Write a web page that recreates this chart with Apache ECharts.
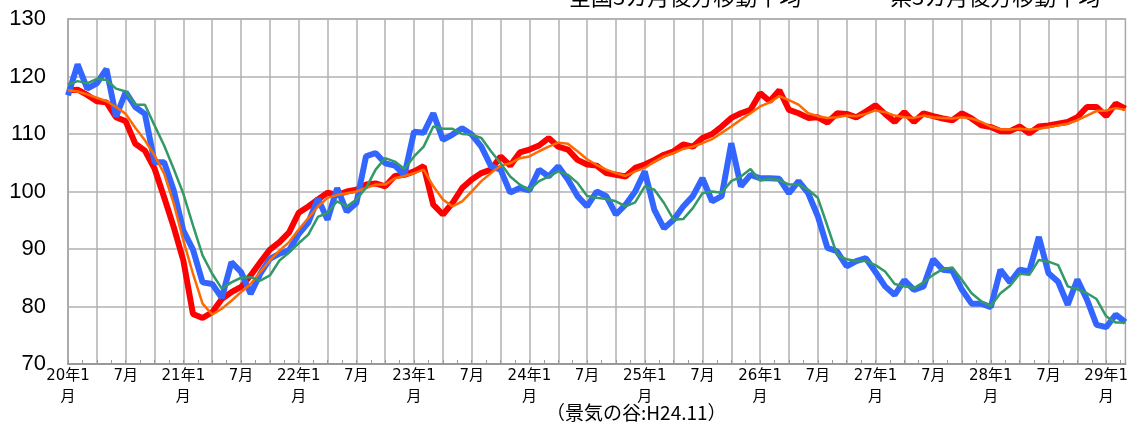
<!DOCTYPE html>
<html>
<head>
	<meta http-equiv="Content-Type" content="text/html; charset=UTF-8">
	<title>景気動向指数</title>
	<script type="text/javascript" src="https://cdn.jsdelivr.net/npm/echarts@6/dist/echarts.min.js"></script>
	<style>
		body { margin: 0; background: #fff; }
		#show { width: 1131px; height: 426px; }
	</style>
</head>
<body>
<div id="show"></div>

<script type="text/javascript">
	// H20.1 - H29.3 monthly
	var months = [];
	for (var y = 20; y <= 29; y++) {
		for (var m = 1; m <= 12; m++) {
			if (y == 29 && m > 3) break;
			months.push(y + '年' + m + '月');
		}
	}

	// 全国
	var zenkoku = [
		117.6,117.7,116.8,115.7,115.5,112.9,112.2,108.3,107.1,104.0,99.0,93.8,
		88.0,78.7,78.0,79.0,81.3,82.5,83.4,85.4,87.7,89.9,91.2,92.9,
		96.3,97.4,98.6,99.8,99.4,100.0,100.3,101.2,101.4,100.9,102.7,102.9,
		103.5,104.4,97.7,96.0,98.0,100.6,102.1,103.2,103.8,106.1,104.5,106.8,
		107.3,108.0,109.3,107.8,107.3,105.5,104.7,104.5,103.2,102.9,102.6,104.1,
		104.7,105.5,106.4,107.0,108.2,107.8,109.3,110.0,111.3,112.8,113.6,114.2,
		117.1,115.7,117.6,114.2,113.6,112.8,112.9,112.0,113.6,113.5,112.9,113.9,
		115.0,113.5,112.1,113.8,112.1,113.6,113.1,112.7,112.4,113.6,112.7,111.5,
		111.2,110.5,110.5,111.3,110.1,111.3,111.5,111.8,112.1,112.9,114.7,114.7,
		113.1,115.3,114.4
	];
	// 県
	var ken = [
		116.7,122.1,117.9,118.8,121.3,113.0,117.3,114.7,113.5,105.1,105.1,100.2,
		93.2,89.9,84.2,83.9,81.5,87.7,86.0,82.2,85.7,88.3,89.2,89.8,
		92.6,94.6,98.8,95.1,100.6,96.5,98.0,106.1,106.7,104.9,104.5,102.9,
		110.4,110.2,113.6,109.0,109.9,111.0,109.9,107.8,104.4,103.8,99.8,100.6,
		100.2,103.8,102.6,104.4,102.1,99.2,97.4,100.0,99.2,96.0,97.7,100.0,
		103.5,96.8,93.6,95.1,97.4,99.2,102.3,98.3,99.2,108.4,100.9,102.9,
		102.3,102.3,102.2,99.7,101.8,99.7,95.7,90.2,89.6,87.0,87.9,88.4,
		86.0,83.5,82.0,84.6,82.9,83.5,88.2,86.4,86.2,82.9,80.5,80.5,
		79.9,86.4,84.2,86.4,86.1,92.1,85.8,84.3,80.3,84.7,81.2,76.8,
		76.4,78.6,77.3
	];
	// 全国3カ月後方移動平均
	var zenkokuMA = [
		117.6,117.4,116.9,116.3,115.7,114.7,113.5,111.1,108.9,106.3,103.1,97.9,
		91.5,85.7,80.5,78.6,79.6,81.0,82.5,83.9,86.0,88.0,89.7,91.2,
		93.4,95.4,97.4,98.9,99.4,99.7,100.0,100.6,101.2,101.2,102.3,102.7,
		103.2,103.8,100.9,98.6,97.4,98.3,100.0,101.8,103.2,104.5,104.9,105.8,
		106.1,107.0,107.8,108.5,108.3,107.0,105.6,104.6,103.8,103.2,102.7,103.5,
		104.1,105.2,106.1,106.7,107.4,107.8,108.4,109.1,110.2,111.3,112.5,113.6,
		114.8,115.5,116.6,115.9,115.1,113.6,113.1,112.8,112.9,113.2,113.1,113.5,
		114.1,113.8,113.2,112.9,112.8,113.2,112.9,112.8,112.7,112.9,112.7,112.1,
		111.3,110.8,110.8,110.9,110.8,110.9,111.2,111.5,111.8,112.4,113.2,114.0,
		114.1,114.5,114.2
	];
	// 県3カ月後方移動平均
	var kenMA = [
		118.6,119.2,118.8,119.6,119.4,117.9,117.4,115.1,115.1,111.5,108.0,103.9,
		99.6,94.1,88.9,85.7,83.1,84.2,85.0,85.1,84.5,85.4,88.0,89.4,
		91.0,92.5,95.6,96.3,98.3,97.4,98.6,100.6,103.8,105.8,105.2,103.9,
		106.1,107.8,111.3,110.9,110.9,110.0,109.9,109.3,107.0,104.9,102.6,101.2,
		100.3,101.8,102.6,103.5,102.9,101.5,99.2,98.9,98.7,98.3,97.4,98.1,
		100.9,100.3,98.0,95.1,95.2,97.1,99.7,100.0,99.8,101.8,102.6,103.9,
		101.9,102.2,102.0,101.2,101.2,100.3,98.9,94.0,89.0,88.2,87.9,87.9,
		87.2,86.1,83.9,83.5,83.2,84.2,85.5,86.5,86.8,84.6,82.3,80.9,
		80.1,82.3,83.6,85.7,85.5,88.1,87.8,87.2,83.5,83.0,82.3,81.3,
		78.3,77.2,77.2
	];

	var myChart = echarts.init(document.getElementById('show'));

	var option = {
		animation: false,
		backgroundColor: '#fff',
		grid: {
			left: 68, right: 5, top: 19, bottom: 62,
			show: true, borderColor: '#a8a8a8', borderWidth: 1.5
		},
		graphic: [
			{ type: 'text', left: 569, top: -14, style: { text: '全国3カ月後方移動平均', font: '22px "Noto Sans CJK JP"', fill: '#000' } },
			{ type: 'text', left: 890, top: -14, style: { text: '県3カ月後方移動平均', font: '22px "Noto Sans CJK JP"', fill: '#000' } },
			{ type: 'text', left: 546, top: 403, style: { text: '（景気の谷:H24.11）', font: '19px "Noto Sans CJK JP"', fill: '#000' } }
		],
		xAxis: [{
			type: 'category',
			data: months,
			boundaryGap: false,
			axisLine: { lineStyle: { color: '#999', width: 2 } },
			axisTick: { show: false },
			axisLabel: {
				interval: function (i) { return i % 6 === 0; },
				color: '#000',
				fontSize: 15,
				fontFamily: '"DejaVu Sans", "Noto Sans CJK JP"',
				lineHeight: 21,
				margin: 2,
				formatter: function (v) {
					return /年1月$/.test(v) ? v.replace('月', '\n月') : v.replace(/^\d+年/, '');
				}
			},
			splitLine: {
				show: true,
				interval: function (i) { return i % 3 === 0; },
				lineStyle: { color: '#b0b0b0', width: 1.5 }
			}
		}, {
			// small ticks between the grid lines
			type: 'value',
			position: 'bottom',
			min: 0, max: 110, interval: 1.5,
			axisLine: { show: false },
			axisLabel: { show: false },
			splitLine: { show: false },
			axisTick: { show: true, inside: true, length: 4, lineStyle: { color: '#999' } }
		}],
		yAxis: {
			type: 'value',
			min: 70, max: 130, interval: 10,
			axisLine: { show: true, lineStyle: { color: '#a8a8a8', width: 1.5 } },
			axisTick: { show: false },
			axisLabel: { color: '#000', fontSize: 22, fontFamily: 'Liberation Sans', margin: 22 },
			splitLine: { lineStyle: { color: '#b0b0b0', width: 1.5 } }
		},
		series: [
			{ name: '全国', type: 'line', data: zenkoku, symbol: 'none', lineStyle: { color: '#ff0000', width: 6 } },
			{ name: '県', type: 'line', data: ken, symbol: 'none', lineStyle: { color: '#3366ff', width: 6 } },
			{ name: '全国3カ月後方移動平均', type: 'line', data: zenkokuMA, symbol: 'none', lineStyle: { color: '#ff6a00', width: 2.5 } },
			{ name: '県3カ月後方移動平均', type: 'line', data: kenMA, symbol: 'none', lineStyle: { color: '#339966', width: 2.5 } }
		]
	};

	myChart.setOption(option);
</script>
</body>
</html>
